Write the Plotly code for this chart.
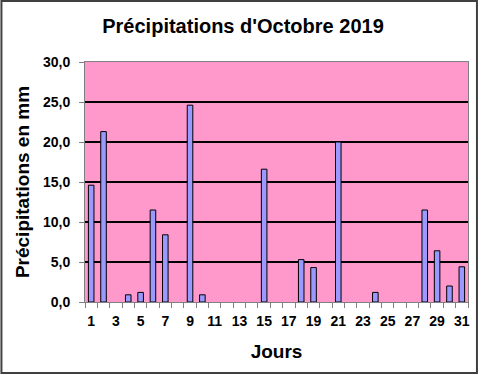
import plotly.graph_objects as go

days = list(range(1, 32))
rain_mm = [14.6, 21.3, None, 0.9, 1.2, 11.5, 8.4, None, 24.6, 0.9,
           None, None, None, None, 16.6, None, None, 5.3, 4.3, None,
           20.0, None, None, 1.2, None, None, None, 11.5, 6.4, 2.0, 4.4]
x_tick_days = list(range(1, 32, 2))
y_ticks = [0, 5, 10, 15, 20, 25, 30]

FONT = "Arial, Liberation Sans, sans-serif"
PW, PH = 385, 240

fig = go.Figure()
fig.add_trace(go.Bar(
    x=days, y=rain_mm, width=0.45,
    marker=dict(color="#9999FF", line=dict(color="#000000", width=1)),
))

fig.update_layout(
    width=481, height=375,
    margin=dict(l=85, r=11, t=62, b=73),
    paper_bgcolor="white",
    plot_bgcolor="#FF99CC",
    separators=", ",
    showlegend=False,
    title=dict(text="<b>Précipitations d'Octobre 2019</b>", x=243/481, xref="container",
               xanchor="center", y=1 - 26/375, yanchor="middle",
               font=dict(family=FONT, size=20, color="black")),
    xaxis=dict(
        range=[0.5, 31.5], tickvals=x_tick_days, ticks="",
        showgrid=False, zeroline=False,
        showline=True, linecolor="#808080", linewidth=1, mirror=True,
        tickfont=dict(family=FONT, size=14, color="black", weight="bold"),
        ticklabelstandoff=6,
        minor=dict(ticks="outside", tick0=0.5, dtick=1, ticklen=5,
                   tickcolor="#808080", showgrid=False),
        title=dict(text="<b>Jours</b>", font=dict(family=FONT, size=19, color="black"), standoff=16),
    ),
    yaxis=dict(
        range=[0, 30], tickvals=y_ticks, tickformat=".1f",
        ticks="outside", ticklen=5, tickcolor="#808080",
        ticklabelstandoff=6,
        showgrid=True, gridcolor="#000000", gridwidth=2,
        zeroline=False,
        showline=True, linecolor="#808080", linewidth=1, mirror=True,
        tickfont=dict(family=FONT, size=14, color="black", weight="bold"),
        title=dict(text="<b>Précipitations en mm</b>", font=dict(family=FONT, size=19, color="black"), standoff=8),
    ),
    shapes=[dict(type="rect", xref="paper", yref="paper",
                 x0=-84/PW, x1=1 + 9/PW, y0=-71/PH, y1=1 + 61/PH,
                 line=dict(color="#404040", width=2), fillcolor="rgba(0,0,0,0)", layer="above")],
)

fig.write_html("out.html", config={"displayModeBar": False},
               post_script="document.body.style.margin='0';")
